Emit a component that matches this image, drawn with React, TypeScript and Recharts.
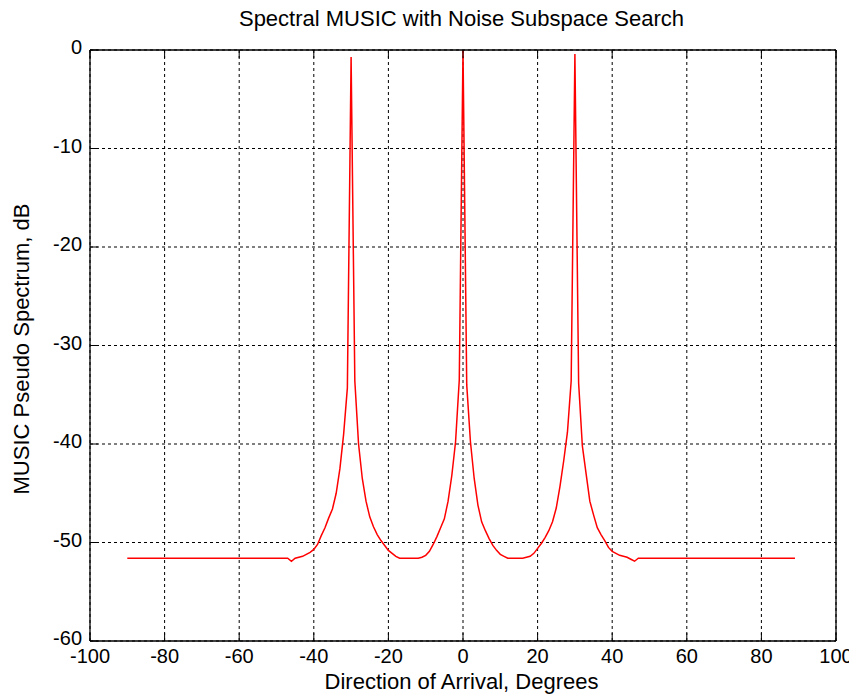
import { CartesianGrid, Line, LineChart, XAxis, YAxis } from 'recharts';

// breakpoints of the pseudo spectrum (flat stretches are straight lines between them)
const ANGLE_DEG = [
  -90, -47, -46, -45, -44, -43, -42, -41, -40, -39, -38, -37, -36, -35, -34, -33, -32, -31, -30,
  -29, -28, -27, -26, -25, -24, -23, -22, -21, -20, -19, -18, -17, -12, -11, -10, -9, -8, -7, -6,
  -5, -4, -3, -2, -1, 0, 1, 2, 3, 4, 5, 6, 7, 8, 9, 10, 11, 12, 16, 17, 18, 19, 20, 21, 22, 23,
  24, 25, 26, 27, 28, 29, 30, 31, 32, 33, 34, 35, 36, 37, 38, 39, 40, 41, 42, 43, 44, 45, 46, 47, 89
];
const SPECTRUM_DB = [
  -51.6, -51.6, -51.9, -51.6, -51.5, -51.4, -51.2, -51.0, -50.7, -50.2, -49.3, -48.5, -47.5, -46.6,
  -45.0, -42.5, -39.0, -34.3, -0.7,
  -33.6, -40.0, -43.5, -45.8, -47.4, -48.4, -49.2, -49.8, -50.3, -50.8, -51.1, -51.4, -51.6, -51.6,
  -51.5, -51.3, -50.9, -50.2, -49.4, -48.5,
  -47.6, -45.8, -43.2, -39.8, -33.5, 0, -34.0, -39.8, -43.5, -46.2, -47.9, -48.8, -49.6, -50.3,
  -50.8, -51.2, -51.4, -51.6, -51.6, -51.5, -51.4, -51.1, -50.6, -50.1, -49.5, -48.8,
  -47.9, -46.5, -44.3, -41.7, -38.8, -33.6, -0.4, -33.8, -40.2, -43.0, -45.8, -47.2, -48.5, -49.2,
  -49.8, -50.5, -50.9, -51.1, -51.3, -51.4, -51.5, -51.7, -51.9, -51.6, -51.6
];

const X_TICKS = [-100, -80, -60, -40, -20, 0, 20, 40, 60, 80, 100];
const Y_TICKS = [-60, -50, -40, -30, -20, -10, 0];

const data = ANGLE_DEG.map((angle, i) => ({ angle, db: SPECTRUM_DB[i] }));

const FONT = '"Liberation Sans", Arial, sans-serif';
const TICK_LEN = 8;

function BottomTick({ x, y, payload }: any) {
  return (
    <g>
      <line x1={x} y1={y} x2={x} y2={y - TICK_LEN} stroke="#000" />
      <text x={x} y={y + 22} textAnchor="middle" fontSize={20} fontFamily={FONT} fill="#000">
        {payload.value}
      </text>
    </g>
  );
}

function LeftTick({ x, y, payload }: any) {
  return (
    <g>
      <line x1={x} y1={y} x2={x + TICK_LEN} y2={y} stroke="#000" />
      <text x={x - 8} y={y + 4} textAnchor="end" fontSize={20} fontFamily={FONT} fill="#000">
        {payload.value}
      </text>
    </g>
  );
}

function TopTick({ x, y }: any) {
  return <line x1={x} y1={y} x2={x} y2={y + TICK_LEN} stroke="#000" />;
}

function RightTick({ x, y }: any) {
  return <line x1={x} y1={y} x2={x - TICK_LEN} y2={y} stroke="#000" />;
}

export default function App() {
  return (
    <div style={{ position: 'relative', width: 849, height: 689, fontFamily: FONT, color: '#000' }}>
      <LineChart width={849} height={689} data={data} margin={{ top: 41, right: 20, bottom: 0, left: 0 }}>
        <CartesianGrid stroke="#000" strokeDasharray="3 3" />
        <XAxis
          dataKey="angle"
          type="number"
          domain={[-100, 100]}
          ticks={X_TICKS}
          height={56}
          tickSize={0}
          tickMargin={0}
          tickLine={false}
          axisLine={{ stroke: '#000', strokeWidth: 1.3 }}
          tick={BottomTick}
          interval={0}
        />
        <XAxis
          xAxisId="top"
          orientation="top"
          dataKey="angle"
          type="number"
          domain={[-100, 100]}
          ticks={X_TICKS}
          height={1}
          tickSize={0}
          tickMargin={0}
          tickLine={false}
          axisLine={{ stroke: '#000', strokeWidth: 1.3 }}
          tick={TopTick}
          interval={0}
        />
        <YAxis
          type="number"
          domain={[-60, 0]}
          ticks={Y_TICKS}
          width={82}
          tickSize={0}
          tickMargin={0}
          tickLine={false}
          axisLine={{ stroke: '#000', strokeWidth: 1.3 }}
          tick={LeftTick}
          interval={0}
        />
        <YAxis
          yAxisId="right"
          orientation="right"
          type="number"
          domain={[-60, 0]}
          ticks={Y_TICKS}
          width={1}
          tickSize={0}
          tickMargin={0}
          tickLine={false}
          axisLine={{ stroke: '#000', strokeWidth: 1.3 }}
          tick={RightTick}
          interval={0}
        />
        <Line
          type="linear"
          dataKey="db"
          stroke="#ff0000"
          strokeWidth={1.5}
          dot={false}
          activeDot={false}
          isAnimationActive={false}
        />
      </LineChart>
      <div
        style={{
          position: 'absolute',
          left: 453.5,
          top: 0,
          transform: 'translateX(-50%)',
          fontSize: 22,
          lineHeight: '22px',
          whiteSpace: 'nowrap',
        }}
      >
        Spectral MUSIC with Noise Subspace Search
      </div>
      <div
        style={{
          position: 'absolute',
          left: 453.5,
          top: 663,
          transform: 'translateX(-50%)',
          fontSize: 22,
          lineHeight: '22px',
          whiteSpace: 'nowrap',
        }}
      >
        Direction of Arrival, Degrees
      </div>
      <div
        style={{
          position: 'absolute',
          left: 14,
          top: 340.5,
          transform: 'translate(-50%, -50%) rotate(-90deg)',
          fontSize: 22,
          lineHeight: '22px',
          whiteSpace: 'nowrap',
        }}
      >
        MUSIC Pseudo Spectrum, dB
      </div>
    </div>
  );
}
